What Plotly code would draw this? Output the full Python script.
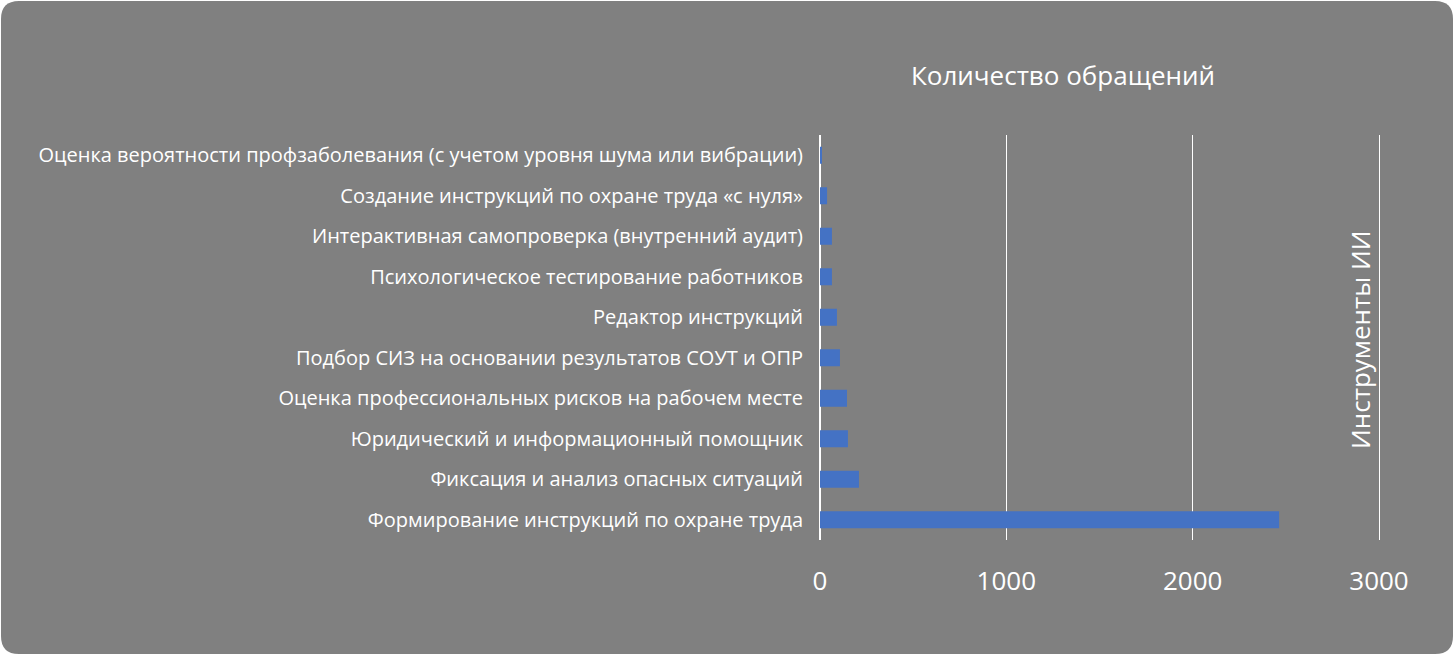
import plotly.graph_objects as go

categories = [
    "Оценка вероятности профзаболевания (с учетом уровня шума или вибрации)",
    "Создание инструкций по охране труда «с нуля»",
    "Интерактивная самопроверка (внутренний аудит)",
    "Психологическое тестирование работников",
    "Редактор инструкций",
    "Подбор СИЗ на основании результатов СОУТ и ОПР",
    "Оценка профессиональных рисков на рабочем месте",
    "Юридический и информационный помощник",
    "Фиксация и анализ опасных ситуаций",
    "Формирование инструкций по охране труда",
]
values = [10, 38, 64, 64, 91, 107, 145, 150, 209, 2464]
x_ticks = [0, 1000, 2000, 3000]

W, H = 1454, 655
L, R, T, B = 820, 1382, 135, 540
X0_PX, X3000_PX = 820, 1379
x_max = 3000 * (R - L) / (X3000_PX - X0_PX)
BG = "#808080"

def px(x):
    return (x - L) / (R - L)

def py(y):
    return (B - y) / (B - T)

# rounded background card
r = 18
x0, x1, y0, y1 = 1, W - 1, 1, H - 1
path = (
    f"M {px(x0 + r)} {py(y0)} L {px(x1 - r)} {py(y0)} "
    f"Q {px(x1)} {py(y0)} {px(x1)} {py(y0 + r)} "
    f"L {px(x1)} {py(y1 - r)} "
    f"Q {px(x1)} {py(y1)} {px(x1 - r)} {py(y1)} "
    f"L {px(x0 + r)} {py(y1)} "
    f"Q {px(x0)} {py(y1)} {px(x0)} {py(y1 - r)} "
    f"L {px(x0)} {py(y0 + r)} "
    f"Q {px(x0)} {py(y0)} {px(x0 + r)} {py(y0)} Z"
)

fig = go.Figure(
    go.Bar(
        x=values,
        y=categories,
        orientation="h",
        marker=dict(color="#4472C4", line=dict(width=0)),
        width=0.42,
    )
)

fig.update_layout(
    width=W,
    height=H,
    margin=dict(l=L, r=W - R, t=T, b=H - B, pad=0),
    paper_bgcolor="white",
    plot_bgcolor="rgba(0,0,0,0)",
    showlegend=False,
    font=dict(family="Open Sans", color="white"),
    title=dict(
        text="Количество обращений",
        x=1063 / W,
        xanchor="center",
        y=1 - 76 / H,
        yanchor="middle",
        font=dict(size=26, color="white", family="Open Sans"),
    ),
    shapes=[
        dict(
            type="path",
            path=path,
            xref="paper",
            yref="paper",
            fillcolor=BG,
            line=dict(width=0),
            layer="below",
        )
    ],
    annotations=[
        dict(
            text="Инструменты ИИ",
            x=px(1360),
            y=py(340),
            xref="paper",
            yref="paper",
            textangle=-90,
            showarrow=False,
            xanchor="center",
            yanchor="middle",
            font=dict(size=26, color="white", family="Open Sans"),
        )
    ],
)

fig.update_xaxes(
    range=[0, x_max],
    tickvals=x_ticks,
    ticktext=[str(v) for v in x_ticks],
    showgrid=True,
    gridcolor="white",
    gridwidth=1,
    zeroline=True,
    zerolinecolor="white",
    zerolinewidth=1.5,
    showline=False,
    ticks="",
    ticklabelstandoff=23,
    tickfont=dict(family="Open Sans", size=26, color="white"),
)
fig.update_yaxes(
    autorange="reversed",
    showgrid=False,
    zeroline=False,
    showline=False,
    ticks="",
    ticklabelstandoff=16,
    tickfont=dict(family="Open Sans", size=20, color="white"),
)

fig.write_html("out.html")
